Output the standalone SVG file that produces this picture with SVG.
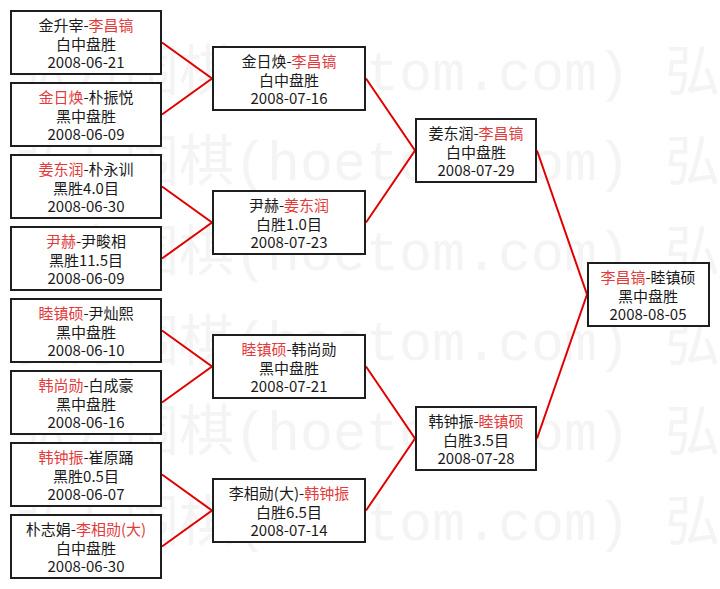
<svg xmlns="http://www.w3.org/2000/svg" width="720" height="589" viewBox="0 0 720 589">
<style>
.wm{fill:#f4f4f4;font-size:55px}
.wmc{font-family:"Noto Sans CJK SC",sans-serif}
.wml{font-family:"Liberation Mono",monospace}
.box{fill:#fff;stroke:#1e1e1e;stroke-width:2}
.t{font-family:"Noto Sans CJK SC","Liberation Sans",sans-serif;font-size:15px;fill:#1a1a1a;text-anchor:middle}
.r{fill:#e23b3b}
.ln{stroke:#e00000;stroke-width:2;fill:none}
</style>
<rect width="720" height="589" fill="#fff"/>
<g id="watermark" class="wm">
<text class="wmc" x="14" y="90">弘方围棋</text><text class="wml" x="234" y="90">(hoetom.com)</text><text class="wmc" x="665" y="90">弘</text>
<text class="wmc" x="14" y="180">弘方围棋</text><text class="wml" x="234" y="180">(hoetom.com)</text><text class="wmc" x="665" y="180">弘</text>
<text class="wmc" x="14" y="270">弘方围棋</text><text class="wml" x="234" y="270">(hoetom.com)</text><text class="wmc" x="665" y="270">弘</text>
<text class="wmc" x="14" y="360">弘方围棋</text><text class="wml" x="234" y="360">(hoetom.com)</text><text class="wmc" x="665" y="360">弘</text>
<text class="wmc" x="14" y="450">弘方围棋</text><text class="wml" x="234" y="450">(hoetom.com)</text><text class="wmc" x="665" y="450">弘</text>
<text class="wmc" x="14" y="540">弘方围棋</text><text class="wml" x="234" y="540">(hoetom.com)</text><text class="wmc" x="665" y="540">弘</text>
</g>
<g id="connectors" class="ln">
<path d="M162,42.5L212,78.5L162,114.5"/>
<path d="M162,186.5L212,222.5L162,258.5"/>
<path d="M162,330.5L212,366.5L162,402.5"/>
<path d="M162,474.5L212,510.5L162,546.5"/>
<path d="M366,78.5L415,150.5L366,222.5"/>
<path d="M366,366.5L415,438.5L366,510.5"/>
<path d="M537,150.5L587,294.5L537,438.5"/>
</g>
<g id="r1m1"><rect class="box" x="11" y="11" width="150" height="63"/>
<text class="t" x="86" y="31">金升宰-<tspan class="r">李昌镐</tspan></text><text class="t" x="86" y="50">白中盘胜</text><text class="t" x="86" y="68">2008-06-21</text></g>
<g id="r1m2"><rect class="box" x="11" y="83" width="150" height="63"/>
<text class="t" x="86" y="103"><tspan class="r">金日焕</tspan>-朴振悦</text><text class="t" x="86" y="122">黑中盘胜</text><text class="t" x="86" y="140">2008-06-09</text></g>
<g id="r1m3"><rect class="box" x="11" y="155" width="150" height="63"/>
<text class="t" x="86" y="175"><tspan class="r">姜东润</tspan>-朴永训</text><text class="t" x="86" y="194">黑胜4.0目</text><text class="t" x="86" y="212">2008-06-30</text></g>
<g id="r1m4"><rect class="box" x="11" y="227" width="150" height="63"/>
<text class="t" x="86" y="247"><tspan class="r">尹赫</tspan>-尹畯相</text><text class="t" x="86" y="266">黑胜11.5目</text><text class="t" x="86" y="284">2008-06-09</text></g>
<g id="r1m5"><rect class="box" x="11" y="299" width="150" height="63"/>
<text class="t" x="86" y="319"><tspan class="r">睦镇硕</tspan>-尹灿熙</text><text class="t" x="86" y="338">黑中盘胜</text><text class="t" x="86" y="356">2008-06-10</text></g>
<g id="r1m6"><rect class="box" x="11" y="371" width="150" height="63"/>
<text class="t" x="86" y="391"><tspan class="r">韩尚勋</tspan>-白成豪</text><text class="t" x="86" y="410">黑中盘胜</text><text class="t" x="86" y="428">2008-06-16</text></g>
<g id="r1m7"><rect class="box" x="11" y="443" width="150" height="63"/>
<text class="t" x="86" y="463"><tspan class="r">韩钟振</tspan>-崔原踊</text><text class="t" x="86" y="482">黑胜0.5目</text><text class="t" x="86" y="500">2008-06-07</text></g>
<g id="r1m8"><rect class="box" x="11" y="515" width="150" height="63"/>
<text class="t" x="86" y="535">朴志娟-<tspan class="r">李相勋(大)</tspan></text><text class="t" x="86" y="554">白中盘胜</text><text class="t" x="86" y="572">2008-06-30</text></g>
<g id="r2m1"><rect class="box" x="213" y="47" width="152" height="63"/>
<text class="t" x="289" y="67">金日焕-<tspan class="r">李昌镐</tspan></text><text class="t" x="289" y="86">白中盘胜</text><text class="t" x="289" y="104">2008-07-16</text></g>
<g id="r2m2"><rect class="box" x="213" y="191" width="152" height="63"/>
<text class="t" x="289" y="211">尹赫-<tspan class="r">姜东润</tspan></text><text class="t" x="289" y="230">白胜1.0目</text><text class="t" x="289" y="248">2008-07-23</text></g>
<g id="r2m3"><rect class="box" x="213" y="335" width="152" height="63"/>
<text class="t" x="289" y="355"><tspan class="r">睦镇硕</tspan>-韩尚勋</text><text class="t" x="289" y="374">黑中盘胜</text><text class="t" x="289" y="392">2008-07-21</text></g>
<g id="r2m4"><rect class="box" x="213" y="479" width="152" height="63"/>
<text class="t" x="289" y="499">李相勋(大)-<tspan class="r">韩钟振</tspan></text><text class="t" x="289" y="518">白胜6.5目</text><text class="t" x="289" y="536">2008-07-14</text></g>
<g id="r3m1"><rect class="box" x="416" y="119" width="120" height="63"/>
<text class="t" x="476" y="139">姜东润-<tspan class="r">李昌镐</tspan></text><text class="t" x="476" y="158">白中盘胜</text><text class="t" x="476" y="176">2008-07-29</text></g>
<g id="r3m2"><rect class="box" x="416" y="407" width="120" height="63"/>
<text class="t" x="476" y="427">韩钟振-<tspan class="r">睦镇硕</tspan></text><text class="t" x="476" y="446">白胜3.5目</text><text class="t" x="476" y="464">2008-07-28</text></g>
<g id="final"><rect class="box" x="588" y="263" width="121" height="63"/>
<text class="t" x="648" y="283"><tspan class="r">李昌镐</tspan>-睦镇硕</text><text class="t" x="648" y="302">黑中盘胜</text><text class="t" x="648" y="320">2008-08-05</text></g>
</svg>
